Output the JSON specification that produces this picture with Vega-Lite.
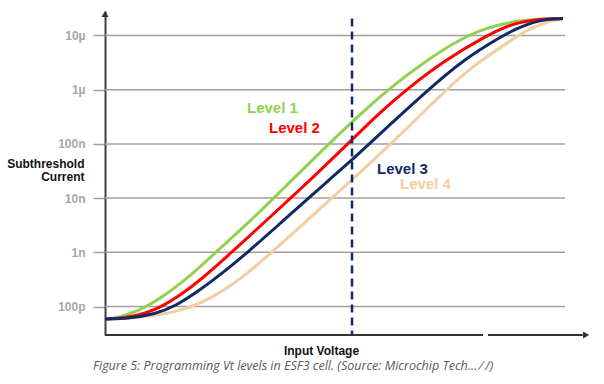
{
  "$schema": "https://vega.github.io/schema/vega-lite/v6.json",
  "width": 485,
  "height": 324,
  "autosize": {"type": "none"},
  "padding": {"left": 105, "top": 11, "right": 14, "bottom": 49},
  "background": "white",
  "config": {"view": {"stroke": null}, "font": "Liberation Sans"},
  "title": {
    "text": "Figure 5: Programming Vt levels in ESF3 cell. (Source: Microchip Tech\u2026 \u2044  /)",
    "orient": "bottom",
    "anchor": "start",
    "frame": "group",
    "dx": -12,
    "offset": 4,
    "font": "Open Sans",
    "fontSize": 12.5,
    "fontStyle": "italic",
    "fontWeight": "normal",
    "color": "#595959"
  },
  "datasets": {
    "grid": [
      {"current": 1e-10}, {"current": 1e-9}, {"current": 1e-8},
      {"current": 1e-7}, {"current": 1e-6}, {"current": 1e-5}
    ],
    "curves": [
      {"level": "Level 4", "voltage": 0, "current": 5.87e-11},
      {"level": "Level 4", "voltage": 0.577, "current": 6.14e-11},
      {"level": "Level 4", "voltage": 1.134, "current": 6.97e-11},
      {"level": "Level 4", "voltage": 1.649, "current": 8.81e-11},
      {"level": "Level 4", "voltage": 2.165, "current": 1.37e-10},
      {"level": "Level 4", "voltage": 2.784, "current": 3.08e-10},
      {"level": "Level 4", "voltage": 3.443, "current": 1.01e-9},
      {"level": "Level 4", "voltage": 4.082, "current": 3.26e-9},
      {"level": "Level 4", "voltage": 4.701, "current": 1.05e-8},
      {"level": "Level 4", "voltage": 5.093, "current": 2.16e-8},
      {"level": "Level 4", "voltage": 5.918, "current": 1.04e-7},
      {"level": "Level 4", "voltage": 7.052, "current": 1.03e-6},
      {"level": "Level 4", "voltage": 7.526, "current": 2.51e-6},
      {"level": "Level 4", "voltage": 8.515, "current": 1.0e-5},
      {"level": "Level 4", "voltage": 8.763, "current": 1.32e-5},
      {"level": "Level 4", "voltage": 9.010, "current": 1.64e-5},
      {"level": "Level 4", "voltage": 9.237, "current": 1.9e-5},
      {"level": "Level 4", "voltage": 9.443, "current": 2.05e-5},

      {"level": "Level 1", "voltage": 0, "current": 5.87e-11},
      {"level": "Level 1", "voltage": 0.206, "current": 6.01e-11},
      {"level": "Level 1", "voltage": 0.515, "current": 7.28e-11},
      {"level": "Level 1", "voltage": 0.866, "current": 1.0e-10},
      {"level": "Level 1", "voltage": 1.237, "current": 1.63e-10},
      {"level": "Level 1", "voltage": 1.649, "current": 3.08e-10},
      {"level": "Level 1", "voltage": 1.959, "current": 5.36e-10},
      {"level": "Level 1", "voltage": 2.289, "current": 1.01e-9},
      {"level": "Level 1", "voltage": 2.928, "current": 3.33e-9},
      {"level": "Level 1", "voltage": 3.505, "current": 1.05e-8},
      {"level": "Level 1", "voltage": 3.856, "current": 2.16e-8},
      {"level": "Level 1", "voltage": 4.639, "current": 1.04e-7},
      {"level": "Level 1", "voltage": 5.093, "current": 2.54e-7},
      {"level": "Level 1", "voltage": 5.835, "current": 1.03e-6},
      {"level": "Level 1", "voltage": 6.701, "current": 3.85e-6},
      {"level": "Level 1", "voltage": 7.320, "current": 8.47e-6},
      {"level": "Level 1", "voltage": 7.732, "current": 1.24e-5},
      {"level": "Level 1", "voltage": 8.144, "current": 1.6e-5},
      {"level": "Level 1", "voltage": 8.557, "current": 1.87e-5},
      {"level": "Level 1", "voltage": 8.969, "current": 2.0e-5},
      {"level": "Level 1", "voltage": 9.443, "current": 2.05e-5},

      {"level": "Level 2", "voltage": 0, "current": 5.87e-11},
      {"level": "Level 2", "voltage": 0.412, "current": 6.14e-11},
      {"level": "Level 2", "voltage": 0.825, "current": 7.43e-11},
      {"level": "Level 2", "voltage": 1.175, "current": 1.0e-10},
      {"level": "Level 2", "voltage": 1.546, "current": 1.6e-10},
      {"level": "Level 2", "voltage": 1.959, "current": 3.02e-10},
      {"level": "Level 2", "voltage": 2.619, "current": 1.01e-9},
      {"level": "Level 2", "voltage": 3.237, "current": 3.26e-9},
      {"level": "Level 2", "voltage": 3.856, "current": 1.05e-8},
      {"level": "Level 2", "voltage": 4.227, "current": 2.16e-8},
      {"level": "Level 2", "voltage": 5.010, "current": 1.0e-7},
      {"level": "Level 2", "voltage": 5.629, "current": 3.56e-7},
      {"level": "Level 2", "voltage": 6.227, "current": 1.03e-6},
      {"level": "Level 2", "voltage": 7.010, "current": 3.53e-6},
      {"level": "Level 2", "voltage": 7.876, "current": 1.0e-5},
      {"level": "Level 2", "voltage": 8.247, "current": 1.44e-5},
      {"level": "Level 2", "voltage": 8.557, "current": 1.75e-5},
      {"level": "Level 2", "voltage": 8.866, "current": 1.96e-5},
      {"level": "Level 2", "voltage": 9.175, "current": 2.05e-5},
      {"level": "Level 2", "voltage": 9.443, "current": 2.05e-5},

      {"level": "Level 3", "voltage": 0, "current": 5.87e-11},
      {"level": "Level 3", "voltage": 0.515, "current": 6.05e-11},
      {"level": "Level 3", "voltage": 1.031, "current": 7.28e-11},
      {"level": "Level 3", "voltage": 1.443, "current": 1.0e-10},
      {"level": "Level 3", "voltage": 1.959, "current": 2.01e-10},
      {"level": "Level 3", "voltage": 2.412, "current": 4.07e-10},
      {"level": "Level 3", "voltage": 2.948, "current": 1.01e-9},
      {"level": "Level 3", "voltage": 3.588, "current": 3.26e-9},
      {"level": "Level 3", "voltage": 4.227, "current": 1.05e-8},
      {"level": "Level 3", "voltage": 4.619, "current": 2.16e-8},
      {"level": "Level 3", "voltage": 5.093, "current": 5.05e-8},
      {"level": "Level 3", "voltage": 5.464, "current": 1.04e-7},
      {"level": "Level 3", "voltage": 6.680, "current": 1.03e-6},
      {"level": "Level 3", "voltage": 7.381, "current": 3.53e-6},
      {"level": "Level 3", "voltage": 8.206, "current": 1.0e-5},
      {"level": "Level 3", "voltage": 8.454, "current": 1.29e-5},
      {"level": "Level 3", "voltage": 8.701, "current": 1.6e-5},
      {"level": "Level 3", "voltage": 8.969, "current": 1.89e-5},
      {"level": "Level 3", "voltage": 9.216, "current": 2.03e-5},
      {"level": "Level 3", "voltage": 9.443, "current": 2.05e-5}
    ],
    "labels": [
      {"level": "Level 1", "voltage": 2.928, "current": 4.59e-7},
      {"level": "Level 2", "voltage": 3.381, "current": 1.96e-7},
      {"level": "Level 3", "voltage": 5.608, "current": 3.44e-8},
      {"level": "Level 4", "voltage": 6.082, "current": 1.82e-8}
    ],
    "xaxis": [
      {"start": 0, "end": 7.794},
      {"start": 7.897, "end": 9.85}
    ]
  },
  "layer": [
    {
      "data": {"name": "grid"},
      "mark": {"type": "rule", "color": "#A0A0A0", "strokeWidth": 1.5},
      "encoding": {
        "x": {"datum": 0, "type": "quantitative", "scale": {"domain": [0, 10], "zero": false, "nice": false}},
        "x2": {"datum": 9.485},
        "y": {
          "field": "current",
          "type": "quantitative",
          "scale": {"type": "log", "domain": [2.98e-11, 2.83e-5], "nice": false},
          "axis": {
            "values": [1e-10, 1e-9, 1e-8, 1e-7, 1e-6, 1e-5],
            "labelExpr": "['100p','1n','10n','100n','1\u00b5','10\u00b5'][round(log(datum.value)/LN10)+10]",
            "grid": false,
            "domain": true,
            "domainColor": "#404040",
            "domainWidth": 2,
            "ticks": true,
            "tickColor": "#A0A0A0",
            "tickSize": 12,
            "tickWidth": 1.5,
            "labels": true,
            "labelColor": "#A6A6A6",
            "labelFontSize": 12,
            "labelFontWeight": "bold",
            "labelPadding": 8,
            "title": ["Subthreshold", "Current"],
            "titleAngle": 0,
            "titleAlign": "right",
            "titleBaseline": "alphabetic",
            "titleX": -21,
            "titleY": 156,
            "titleFontSize": 12,
            "titleFontWeight": "bold",
            "titleColor": "#111111",
            "titleLineHeight": 13
          }
        }
      }
    },
    {
      "data": {"name": "curves"},
      "mark": {"type": "line", "interpolate": "basis", "strokeWidth": 3},
      "encoding": {
        "x": {
          "field": "voltage",
          "type": "quantitative",
          "axis": {
            "title": "Input Voltage",
            "domain": false,
            "ticks": false,
            "labels": false,
            "grid": false,
            "titleFontSize": 12,
            "titleFontWeight": "bold",
            "titleColor": "#111111",
            "titleAlign": "center",
            "titleBaseline": "alphabetic",
            "titleX": 216,
            "titleY": 19
          }
        },
        "y": {"field": "current", "type": "quantitative"},
        "color": {
          "field": "level",
          "type": "nominal",
          "scale": {"domain": ["Level 1", "Level 2", "Level 3", "Level 4"], "range": ["#92D050", "#FF0000", "#0F2A66", "#F2CDA2"]},
          "legend": null
        }
      }
    },
    {
      "data": {"values": [{}]},
      "mark": {"type": "rule", "color": "#0F2A66", "strokeWidth": 2.5, "strokeDash": [8, 5]},
      "encoding": {
        "x": {"datum": 5.093, "type": "quantitative"},
        "y": {"datum": 2.05e-5, "type": "quantitative"},
        "y2": {"datum": 2.98e-11}
      }
    },
    {
      "data": {"name": "xaxis"},
      "mark": {"type": "rule", "color": "#333333", "strokeWidth": 2},
      "encoding": {
        "x": {"field": "start", "type": "quantitative"},
        "x2": {"field": "end"},
        "y": {"datum": 2.98e-11, "type": "quantitative"}
      }
    },
    {
      "data": {"values": [{}]},
      "mark": {"type": "point", "shape": "triangle-up", "filled": true, "color": "#333333", "size": 50, "opacity": 1},
      "encoding": {
        "x": {"datum": 0, "type": "quantitative"},
        "y": {"datum": 2.49e-5, "type": "quantitative"}
      }
    },
    {
      "data": {"values": [{}]},
      "mark": {"type": "point", "shape": "triangle-right", "filled": true, "color": "#333333", "size": 50, "opacity": 1},
      "encoding": {
        "x": {"datum": 9.92, "type": "quantitative"},
        "y": {"datum": 2.98e-11, "type": "quantitative"}
      }
    },
    {
      "data": {"name": "labels"},
      "mark": {"type": "text", "align": "left", "baseline": "middle", "fontSize": 15, "fontWeight": "bold"},
      "encoding": {
        "x": {"field": "voltage", "type": "quantitative"},
        "y": {"field": "current", "type": "quantitative"},
        "text": {"field": "level"},
        "color": {"field": "level", "type": "nominal", "legend": null}
      }
    }
  ]
}
